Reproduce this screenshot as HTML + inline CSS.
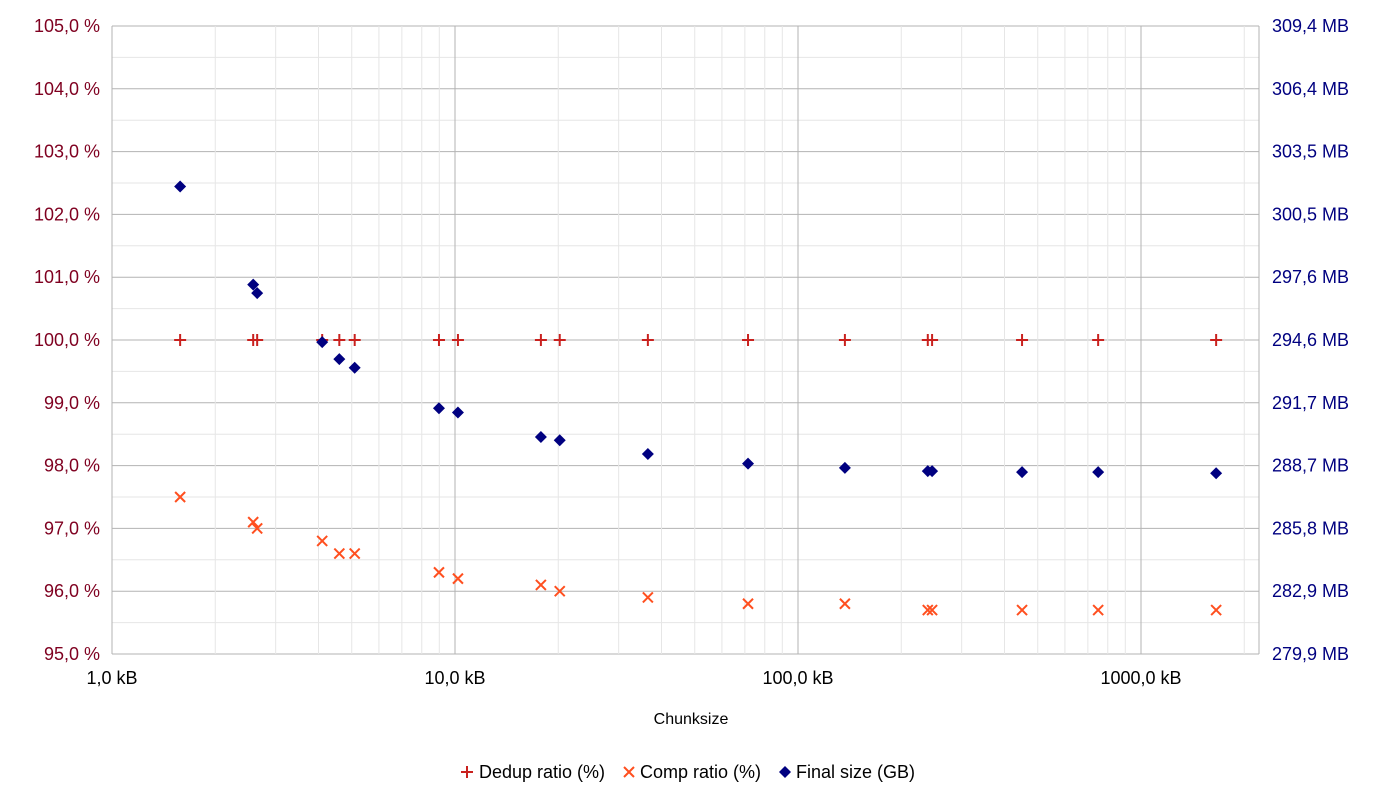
<!DOCTYPE html>
<html><head><meta charset="utf-8">
<style>
body{margin:0;background:#fff;font-family:"Liberation Sans",sans-serif;}
svg text{font-family:"Liberation Sans",sans-serif;}
</style></head>
<body>
<svg id="chart" width="1382" height="797"></svg>
<script>
const chunkKB=[1.58,2.58,2.65,4.1,4.6,5.1,8.98,10.2,17.8,20.2,36.5,71.5,137,239,246,450,750,1656];
const dedupPct=[100,100,100,100,100,100,100,100,100,100,100,100,100,100,100,100,100,100];
const compPct=[97.5,97.1,97.0,96.8,96.6,96.6,96.3,96.2,96.1,96.0,95.9,95.8,95.8,95.7,95.7,95.7,95.7,95.7];
const finalMB=[301.8,297.2,296.8,294.5,293.7,293.3,291.4,291.2,290.05,289.9,289.25,288.8,288.6,288.45,288.45,288.4,288.4,288.35];
const leftTicks=["95,0 %","96,0 %","97,0 %","98,0 %","99,0 %","100,0 %","101,0 %","102,0 %","103,0 %","104,0 %","105,0 %"];
const rightTicks=["279,9 MB","282,9 MB","285,8 MB","288,7 MB","291,7 MB","294,6 MB","297,6 MB","300,5 MB","303,5 MB","306,4 MB","309,4 MB"];
const xTicks=["1,0 kB","10,0 kB","100,0 kB","1000,0 kB"];

const svg=document.getElementById('chart');
const NS="http://www.w3.org/2000/svg";
const L=112,R=1259,T=26,B=654;
const xs=v=>L+Math.log10(v)*343;
const yl=v=>B-(v-95)/10*(B-T);
const rMin=279.87,rMax=309.33;
const yr=v=>B-(v-rMin)/(rMax-rMin)*(B-T);
function el(tag,attrs,parent){const e=document.createElementNS(NS,tag);for(const k in attrs)e.setAttribute(k,attrs[k]);(parent||svg).appendChild(e);return e;}

const grid=el('g',{});


for(let i=0;i<=20;i++){const y=B-i*(B-T)/20;el('line',{x1:L,x2:R,y1:y,y2:y,stroke:i%2?'#e6e6e6':'#b3b3b3','stroke-width':1},grid);}
for(let d=0;d<4;d++)for(let m=1;m<10;m++){const x=xs(Math.pow(10,d)*m);if(x>R)break;el('line',{x1:x,x2:x,y1:T,y2:B,stroke:m==1?'#b3b3b3':'#e6e6e6','stroke-width':1},grid);}
el('line',{x1:R,x2:R,y1:T,y2:B,stroke:'#b3b3b3'},grid);

leftTicks.forEach((t,i)=>{const e=el('text',{x:100,y:B-i*(B-T)/10+6,'text-anchor':'end','font-size':18,fill:'#7f0020'});e.textContent=t;

});
rightTicks.forEach((t,i)=>{const e=el('text',{x:1272,y:B-i*(B-T)/10+6,'font-size':18,fill:'#000080'});e.textContent=t;

});
xTicks.forEach((t,i)=>{const e=el('text',{x:L+i*343,y:684,'text-anchor':'middle','font-size':18,fill:'#000'});e.textContent=t;

});
const xt=el('text',{x:691,y:724,'text-anchor':'middle','font-size':16,fill:'#000'});xt.textContent="Chunksize";



function plus(x,y,g,c){el('path',{d:`M${x-6},${y}H${x+6}M${x},${y-6}V${y+6}`,stroke:c,'stroke-width':2},g);}
function cross(x,y,g,c){el('path',{d:`M${x-5},${y-5}L${x+5},${y+5}M${x-5},${y+5}L${x+5},${y-5}`,stroke:c,'stroke-width':2},g);}
function dia(x,y,g,c){el('path',{d:`M${x},${y-6}L${x+6},${y}L${x},${y+6}L${x-6},${y}Z`,fill:c},g);}

const gd=el('g',{});
const gc=el('g',{});
const gf=el('g',{});
chunkKB.forEach((c,i)=>{plus(xs(c),yl(dedupPct[i]),gd,'#c9211e');cross(xs(c),yl(compPct[i]),gc,'#ff4f1f');dia(xs(c),yr(finalMB[i]),gf,'#000080');});

const lg=el('g',{});
plus(467,772,lg,'#c9211e');let t=el('text',{x:479,y:778,'font-size':18},lg);t.textContent="Dedup ratio (%)";
cross(629,772,lg,'#ff4f1f');t=el('text',{x:640,y:778,'font-size':18},lg);t.textContent="Comp ratio (%)";
dia(785,772,lg,'#000080');t=el('text',{x:796,y:778,'font-size':18},lg);t.textContent="Final size (GB)";
</script>
</body></html>
